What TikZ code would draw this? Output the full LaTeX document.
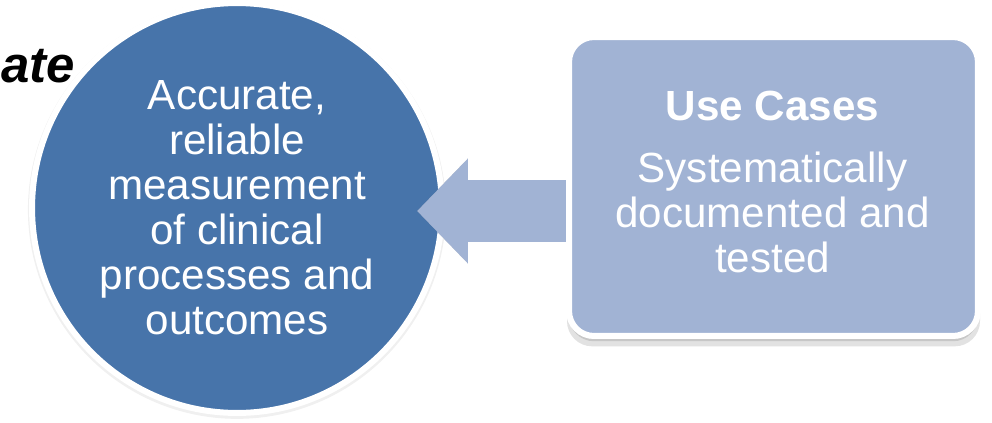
\documentclass[tikz,border=0pt]{standalone}
\usepackage{fontspec}
\setmainfont{Liberation Sans}
\usetikzlibrary{arrows.meta,positioning,shadows}
\definecolor{goalblue}{RGB}{71,116,170}
\definecolor{caseblue}{RGB}{161,179,212}

\begin{document}
\begin{tikzpicture}[
    x=0.02cm, y=-0.02cm,
    node distance=0.6cm,
    goal/.style={circle, fill=goalblue, draw=white, line width=0.12cm, minimum size=8.2cm, text=white, align=center, font=\fontsize{24}{25.6}\selectfont, drop shadow={shadow scale=1.02, shadow xshift=0pt, shadow yshift=-1pt, opacity=0.12}},
    casebox/.style={rectangle, rounded corners=0.5cm, fill=caseblue, draw=white, line width=0.12cm, minimum width=8.18cm, minimum height=5.98cm,
        drop shadow={shadow scale=1.01, shadow xshift=0pt, shadow yshift=-5pt, opacity=0.12},
        drop shadow={shadow xshift=0pt, shadow yshift=-3pt, opacity=0.15}},
    casetext/.style={text=white, align=center, inner sep=0pt, font=\fontsize{24}{25.6}\selectfont},
    bigarrow/.style={draw=caseblue, line width=1.24cm, -{Triangle[length=1.02cm, width=2.04cm]}}
]
\useasboundingbox (0,0) rectangle (992,423);

\node[anchor=base east, inner sep=0pt, font=\fontsize{29}{30}\selectfont\bfseries\itshape] (word) at (75,82) {ate};

\node[goal] (goal) at (237,208) {Accurate,\\reliable\\measurement\\of clinical\\processes and\\outcomes};

\coordinate (tip) at (417,211);
\node[casebox] (cases) at (773.5,186.5) {};

% arrow from the use cases to the goal
\draw[bigarrow, draw=black, opacity=0.18, yshift=-2pt] (cases.west |- tip) -- (tip);
\draw[bigarrow] (cases.west |- tip) -- (tip);

\node[casebox] (cases) at (773.5,186.5) {};
\node[casetext] (casebody) at (772.5,212) {Systematically\\documented and\\tested};
\node[casetext, above=of casebody, font=\fontsize{24}{25.6}\selectfont\bfseries] (casetitle) {Use Cases};
\end{tikzpicture}
\end{document}
